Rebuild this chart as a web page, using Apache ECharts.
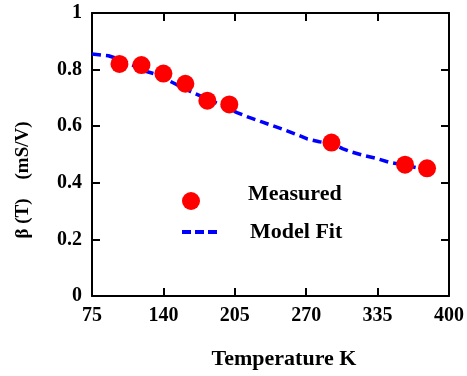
<!DOCTYPE html>
<html>
<head>
<meta charset="utf-8">
<script src="https://cdn.jsdelivr.net/npm/echarts@6/dist/echarts.min.js"></script>
<style>html,body{margin:0;padding:0;background:#fff;}#c{width:467px;height:376px;}</style>
</head>
<body>
<div id="c"></div>
<script>
// Measured data
const measuredT = [100, 120, 140, 160, 180, 200, 293, 360, 380];
const measuredBeta = [0.820, 0.816, 0.786, 0.750, 0.690, 0.677, 0.542, 0.464, 0.451];
// Model fit curve
const fitT = [75, 90, 100, 110, 123, 134, 151, 165, 186, 207, 218, 229, 240, 250, 261, 271, 282, 293, 303, 312, 321, 334, 346, 359, 371, 380];
const fitBeta = [0.855, 0.849, 0.836, 0.820, 0.795, 0.783, 0.749, 0.722, 0.686, 0.648, 0.631, 0.616, 0.601, 0.587, 0.571, 0.555, 0.545, 0.540, 0.521, 0.508, 0.498, 0.486, 0.472, 0.463, 0.453, 0.451];
// Axis ticks
const xTicks = [75, 140, 205, 270, 335, 400];
const yTicks = [0, 0.2, 0.4, 0.6, 0.8, 1];
const seriesNames = ['Measured', 'Model Fit'];
const xTitle = 'Temperature K';
const yTitle = 'β (T)    (mS/V)';

const FONT = 'Liberation Serif';
const chart = echarts.init(document.getElementById('c'), null, {renderer: 'canvas'});

const axisLineStyle = {color: '#000', width: 2};
function xAx(pos, showLabel) {
  return {
    type: 'value', position: pos,
    min: xTicks[0], max: xTicks[xTicks.length - 1], interval: xTicks[1] - xTicks[0],
    axisLine: {show: true, onZero: false, lineStyle: axisLineStyle},
    axisTick: {show: true, inside: true, length: 8, lineStyle: axisLineStyle},
    splitLine: {show: false},
    axisLabel: {show: showLabel, margin: 10, fontFamily: FONT, fontWeight: 'bold', fontSize: 20, color: '#000'}
  };
}
function yAx(pos, showLabel) {
  return {
    type: 'value', position: pos,
    min: yTicks[0], max: yTicks[yTicks.length - 1], interval: yTicks[1] - yTicks[0],
    axisLine: {show: true, onZero: false, lineStyle: axisLineStyle},
    axisTick: {show: true, inside: true, length: 8, lineStyle: axisLineStyle},
    splitLine: {show: false},
    axisLabel: {show: showLabel, margin: 10, fontFamily: FONT, fontWeight: 'bold', fontSize: 20, color: '#000',
      formatter: v => (v === 0 || v === 1) ? String(v) : v.toFixed(1)}
  };
}

chart.setOption({
  animation: false,
  backgroundColor: '#fff',
  grid: {left: 92, right: 17, top: 13, bottom: 80, containLabel: false},
  xAxis: [xAx('bottom', true), xAx('top', false)],
  yAxis: [yAx('left', true), yAx('right', false)],
  legend: [
    {
      data: [{name: seriesNames[0], icon: 'circle'}],
      left: 182, top: 183, padding: 0, itemWidth: 18, itemHeight: 18,
      selectedMode: false,
      itemStyle: {opacity: 1},
      formatter: '{m|{name}}',
      textStyle: {
        fontFamily: FONT, fontWeight: 'bold', fontSize: 22, color: '#000',
        rich: {m: {fontFamily: FONT, fontWeight: 'bold', fontSize: 22, color: '#000', padding: [0, 0, 14, 43]}}
      }
    },
    {
      data: [seriesNames[1]],
      left: 180, top: 221, padding: 0, itemWidth: 35, itemHeight: 18,
      selectedMode: false,
      itemStyle: {opacity: 0},
      lineStyle: {width: 4, type: [9, 4]},
      textStyle: {fontFamily: FONT, fontWeight: 'bold', fontSize: 22, color: '#000', padding: [0, 0, 0, 28]}
    }
  ],
  graphic: [
    {type: 'text', x: 284, y: 359, style: {text: xTitle, fontFamily: FONT, fontWeight: 'bold', fontSize: 22, fill: '#000', textAlign: 'center', textVerticalAlign: 'middle'}},
    {type: 'text', x: 23, y: 180, rotation: Math.PI / 2, style: {text: yTitle, fontFamily: FONT, fontWeight: 'bold', fontSize: 19, fill: '#000', textAlign: 'center', textVerticalAlign: 'middle'}}
  ],
  series: [
    {
      name: seriesNames[1], type: 'line', xAxisIndex: 0, yAxisIndex: 0,
      data: fitT.map((t, i) => [t, fitBeta[i]]),
      showSymbol: false, symbol: 'none', smooth: false,
      lineStyle: {color: '#0000ff', width: 3.5, type: [9, 5]},
      itemStyle: {color: '#0000ff'},
      z: 2
    },
    {
      name: seriesNames[0], type: 'scatter', xAxisIndex: 0, yAxisIndex: 0,
      data: measuredT.map((t, i) => [t, measuredBeta[i]]),
      symbol: 'circle', symbolSize: 18,
      itemStyle: {color: '#ff0000', opacity: 1},
      z: 3
    }
  ]
});
</script>
</body>
</html>
